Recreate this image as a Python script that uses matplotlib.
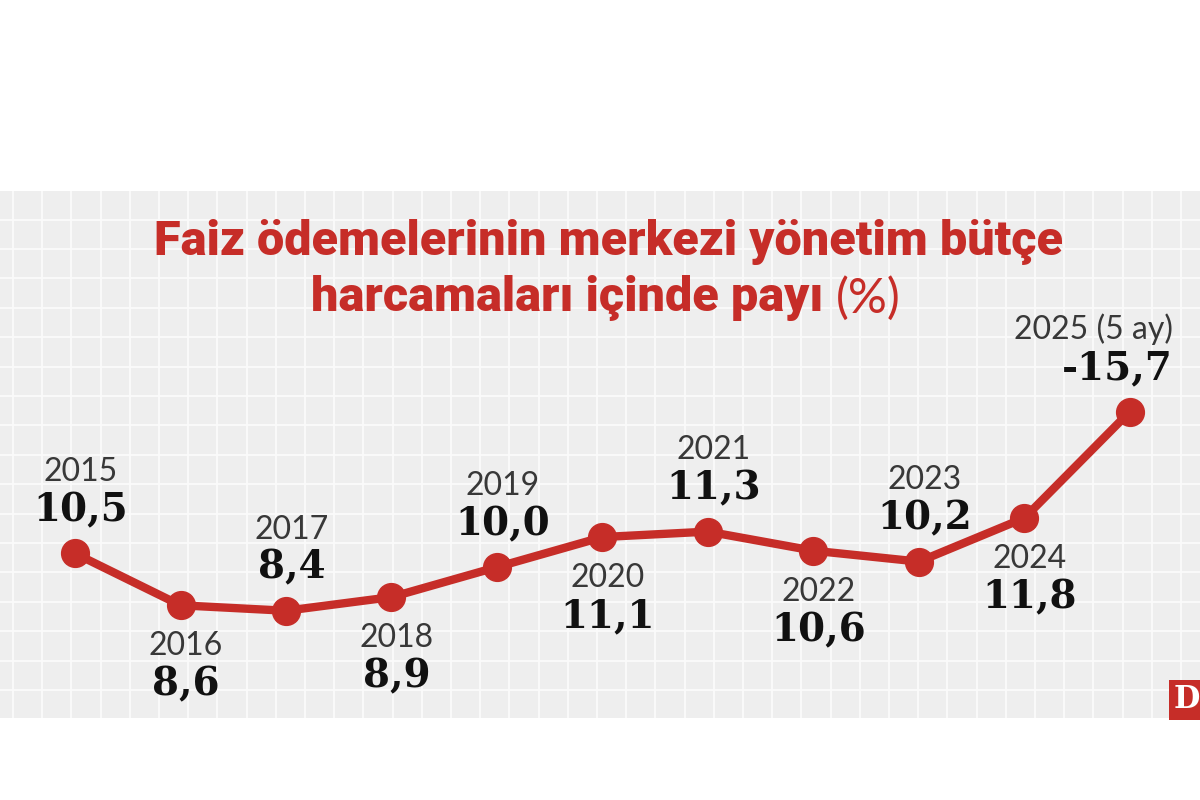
import matplotlib
matplotlib.use('Agg')
import matplotlib.pyplot as plt
import numpy as np

# --- data ---
years = [2015, 2016, 2017, 2018, 2019, 2020, 2021, 2022, 2023, 2024, 2025]
year_labels = ['2015', '2016', '2017', '2018', '2019', '2020', '2021', '2022',
               '2023', '2024', '2025 (5 ay)']
values = [10.5, 8.6, 8.4, 8.9, 10.0, 11.1, 11.3, 10.6, 10.2, 11.8, -15.7]
label_side = ['up', 'down', 'up', 'down', 'up', 'down', 'up', 'down', 'up', 'down', 'up']

RED = '#c62d28'
PANEL = '#eeeeee'

fig = plt.figure(figsize=(12, 8), dpi=100)
fig.patch.set_facecolor('white')

# panel with grid (pixel coords)
panel = [0, 82 / 800, 1, 527 / 800]
bg = fig.add_axes(panel)
bg.set_facecolor(PANEL)
bg.set_xlim(0, 1200)
bg.set_ylim(0, 527)
bg.set_xticks(np.arange(13, 1200, 29.2))
bg.set_yticks(np.arange(28, 527, 29.4))
bg.grid(True, color='#fbfbfb', lw=1.3)
bg.tick_params(length=0, labelbottom=False, labelleft=False)
for s in bg.spines.values():
    s.set_visible(False)

ax = fig.add_axes(panel)
ax.patch.set_alpha(0)
ax.set_xlim(2014.289, 2025.664)
ax.set_ylim(4.47, 23.78)
ax.axis('off')

plot_vals = np.abs(values)
ax.plot(years, plot_vals, color=RED, lw=6, marker='o', markersize=20,
        solid_capstyle='round', zorder=3)

for x, v, raw, yl, side in zip(years, plot_vals, values, year_labels, label_side):
    txt = f'{raw:.1f}'.replace('.', ',')
    if side == 'up':
        off_val, off_year = 23, 52
    else:
        off_val, off_year = -65, -36
    ha, dx = 'center', 4
    if yl != str(x):  # last, partial-year label sits right-aligned
        ha, dx = 'right', 31
    ax.annotate(txt, (x, v), xytext=(dx, off_val), textcoords='offset points',
                ha=ha, va='baseline', fontsize=28, fontweight='bold',
                family='DejaVu Serif', color='#111111')
    ax.annotate(yl, (x, v), xytext=(dx, off_year), textcoords='offset points',
                ha=ha, va='baseline', fontsize=23, fontweight='normal',
                family=['Lato', 'DejaVu Sans'], color='#383838')

# title
tfam = ['Roboto', 'DejaVu Sans']
fig.text(0.507, 1 - 242 / 800, 'Faiz ödemelerinin merkezi yönetim bütçe',
         ha='center', va='center', fontsize=35, fontweight='black',
         family=tfam, color=RED)
t2 = fig.text(0, 1 - 298 / 800, 'harcamaları içinde payı ', ha='left', va='center',
              fontsize=35, fontweight='black', family=tfam, color=RED)
t3 = fig.text(0, 1 - 298 / 800, '(%)', ha='left', va='center',
              fontsize=35, fontweight='normal', family=['Lato', 'DejaVu Sans'], color=RED)
r = fig.canvas.get_renderer()
w2 = t2.get_window_extent(r).width
w3 = t3.get_window_extent(r).width
start = 606 - (w2 + w3) / 2
t2.set_x(start / 1200)
t3.set_x((start + w2) / 1200)

# logo
fig.text(1187 / 1200, 1 - 700 / 800, 'D', ha='center', va='center', fontsize=22,
         fontweight='bold', family='DejaVu Serif', color='white',
         bbox=dict(boxstyle='square,pad=0.15', fc=RED, ec='none'))

fig.savefig('out.png', dpi=100)
